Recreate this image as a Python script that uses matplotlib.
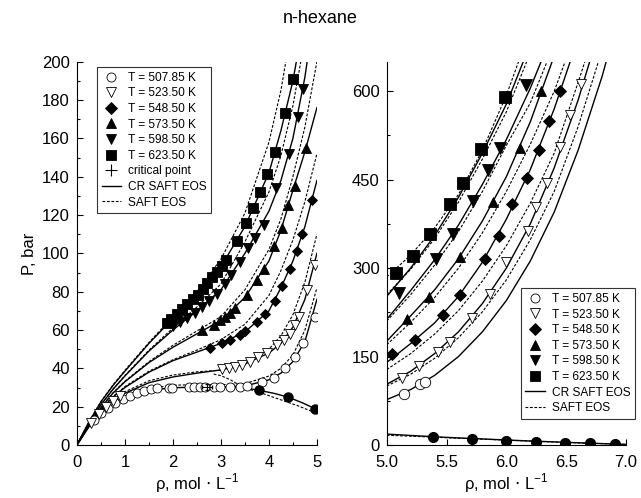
import matplotlib
matplotlib.use("Agg")
import matplotlib.pyplot as plt
from matplotlib.lines import Line2D

plt.rcParams['font.family'] = ['Liberation Sans', 'DejaVu Sans']

temps = ['507.85', '523.50', '548.50', '573.50', '598.50', '623.50']
mk = ['o', 'v', 'D', '^', 'v', 's']
face = ['white', 'white', 'black', 'black', 'black', 'black']

# ---- left panel, model curves (rho grid, P in bar)
rho_l = [0, 0.25, 0.5, 0.75, 1.0, 1.5, 2.0, 2.5, 3.0, 3.5, 4.0, 4.25, 4.5, 4.75, 5.0]
cr_l = [
    [0, 9.5, 16.5, 21.5, 24.8, 28.5, 29.9, 30.2, 30.3, 30.8, 34, 37.5, 43.5, 54, 76],
    [0, 10, 17.5, 23, 27, 32.5, 35.5, 37.5, 39.2, 42.3, 48, 53, 61.5, 76, 100],
    [0, 10.5, 18.5, 25, 30, 38, 44, 48.5, 53, 59, 70, 82, 96, 114, 138],
    [0, 11, 19.5, 27, 33, 43, 51, 58, 65, 77, 96, 112, 133, 153, 176],
    [0, 11.5, 21, 29, 36, 49, 60, 70, 81, 100, 122, 138, 160, 192, 235],
    [0, 12, 22.5, 31, 38.5, 53, 66, 78, 93, 114, 142, 164, 190, 225, 270],
]
saft_l = [
    [0, 9.6, 16.8, 22, 25.5, 29.5, 31.2, 31.5, 31.5, 32, 36, 40, 47, 60, 82],
    [0, 10.1, 17.8, 23.5, 27.8, 33.5, 36.5, 38.2, 39, 42, 50, 57, 68, 85, 110],
    [0, 10.6, 18.7, 25.3, 30.5, 38.5, 44.5, 49.5, 55, 63, 78, 91, 107, 127, 152],
    [0, 11.1, 19.7, 27.3, 33.3, 43.5, 52, 59.5, 67, 81, 102, 118, 140, 166, 200],
    [0, 11.6, 21.1, 29.2, 36.3, 49.5, 61, 72, 84, 106, 132, 151, 177, 212, 255],
    [0, 12.1, 22.7, 31.3, 39, 53.5, 67, 80, 97, 121, 158, 185, 222, 265, 310],
]
# liquid branch of the coexistence curve
sat_cr_x = [2.71, 3.0, 3.3, 3.6, 3.8, 4.1, 4.4, 4.7, 5.0]
sat_cr_y = [30.25, 30.2, 30.0, 29.4, 28.5, 27, 25, 22, 18.5]
sat_saft_x = [2.85, 3.0, 3.2, 3.4, 3.6, 3.8, 4.2, 4.6, 5.0]
sat_saft_y = [37, 36.2, 34, 31, 29, 27.5, 24, 20.5, 16.5]

# ---- left panel, experimental points
exp_l_x = [
    [0.35, 0.5, 0.65, 0.8, 0.95, 1.1, 1.25, 1.4, 1.55, 1.67, 1.91, 1.98, 2.33, 2.43, 2.57,
     2.67, 2.85, 2.99, 3.19, 3.40, 3.55, 3.85, 4.1, 4.34, 4.55, 4.72, 4.96],
    [0.3, 0.45, 0.6, 0.75, 0.9, 3.02, 3.16, 3.30, 3.44, 3.61, 3.78, 3.96, 4.17, 4.31, 4.44,
     4.55, 4.62, 4.79, 4.97],
    [2.78, 3.02, 3.19, 3.39, 3.51, 3.75, 3.92, 4.13, 4.27, 4.44, 4.58, 4.69, 4.90],
    [2.60, 2.85, 2.99, 3.09, 3.19, 3.30, 3.54, 3.75, 3.90, 4.10, 4.27, 4.40, 4.55, 4.78],
    [2.01, 2.15, 2.30, 2.45, 2.60, 2.75, 2.91, 3.08, 3.22, 3.40, 3.57, 3.72, 3.90, 4.15,
     4.42, 4.60, 4.72],
    [1.87, 1.97, 2.08, 2.19, 2.30, 2.41, 2.52, 2.62, 2.72, 2.82, 2.92, 3.02, 3.10, 3.33,
     3.52, 3.67, 3.81, 3.96, 4.13, 4.34, 4.51],
]
exp_l_p = [
    [13, 16.5, 19.5, 22, 24, 25.8, 27.2, 28.3, 29.2, 29.7, 30, 30, 30.2, 30.2, 30.2,
     30.2, 30.3, 30.3, 30.4, 30.5, 31, 33, 35, 40, 46, 53, 67],
    [11.5, 16, 20, 23, 25.5, 39.5, 40, 40.8, 41.8, 43.5, 46, 48, 52, 55, 58,
     62.5, 67, 81, 94],
    [50.5, 53, 55, 57.5, 59.5, 64, 68.5, 75, 83, 92, 101, 110, 128],
    [60, 62.6, 65, 67, 68.7, 71.3, 78.5, 86, 92, 104, 113, 125, 135, 155],
    [62, 64, 66.5, 69, 72, 75, 79, 84, 88.5, 95.5, 103, 108, 115, 134,
     152, 171, 186],
    [63.8, 66.0, 68.5, 71.0, 73.5, 76.0, 78.5, 81.5, 84.5, 87.5, 90.5, 93.5, 96.5, 106.5,
     115.7, 123.5, 132.2, 141.5, 153, 173, 191],
]
liq_l_x = [3.80, 4.40, 4.95]
liq_l_p = [28.5, 25, 19]
crit_rho, crit_p = 2.71, 30.25

# ---- right panel, model curves
rho_r = [5.0, 5.2, 5.4, 5.6, 5.8, 6.0, 6.2, 6.4, 6.6, 6.8, 7.0]
cr_r = [
    [77, 94, 118, 150, 192, 245, 312, 395, 500, 625, 770],
    [103, 125, 155, 192, 240, 300, 375, 470, 585, 720, 870],
    [140, 172, 207, 252, 310, 383, 467, 570, 690, 830, 990],
    [176, 219, 263, 316, 380, 455, 548, 660, 790, 940, 1100],
    [213, 262, 314, 373, 442, 518, 605, 705, 830, 980, 1150],
    [252, 300, 355, 420, 495, 578, 680, 800, 940, 1100, 1280],
]
saft_r = [
    [100, 120, 147, 182, 226, 280, 348, 430, 540, 670, 820],
    [128, 155, 188, 228, 278, 338, 410, 495, 615, 740, 890],
    [170, 208, 250, 300, 360, 430, 510, 600, 710, 850, 1010],
    [210, 255, 305, 362, 430, 508, 580, 680, 800, 950, 1120],
    [255, 298, 350, 412, 485, 565, 665, 780, 910, 1070, 1250],
    [285, 322, 368, 425, 500, 593, 705, 830, 970, 1130, 1310],
]
sat_cr_r = [18.5, 16.2, 14, 12, 10.3, 8.5, 6.8, 5.3, 3.8, 2.4, 1.0]
sat_saft_r = [16.5, 15, 13.2, 11.5, 9.9, 8.2, 6.6, 5.1, 3.6, 2.3, 1.0]

# ---- right panel, experimental points
exp_r_x = [
    [5.145, 5.28, 5.32],
    [5.125, 5.27, 5.43, 5.53, 5.71, 5.86, 6.0, 6.18, 6.25, 6.34, 6.45, 6.53, 6.62],
    [5.04, 5.24, 5.47, 5.61, 5.82, 5.94, 6.05, 6.17, 6.27, 6.36, 6.45],
    [5.17, 5.35, 5.61, 5.89, 6.11, 6.29],
    [5.10, 5.41, 5.55, 5.72, 5.85, 5.95, 6.165],
    [5.08, 5.22, 5.36, 5.53, 5.64, 5.79, 5.99],
]
exp_r_p = [
    [86, 104, 107],
    [113, 134, 158, 175, 216, 256, 310, 363, 404, 444, 506, 559, 612],
    [155, 178, 220, 254, 316, 354, 408, 452, 500, 549, 600],
    [214, 251, 318, 412, 504, 600],
    [258, 316, 358, 414, 466, 504, 610],
    [291, 320, 358, 408, 444, 502, 590],
]
liq_r_x = [5.39, 5.71, 6.0, 6.25, 6.49, 6.7, 6.91]
liq_r_p = [14, 11, 7, 5, 4, 3, 2.5]

fig = plt.figure(figsize=(6.41, 4.98), dpi=100)
axl = fig.add_axes([0.120, 0.1064, 0.3744, 0.7697])
axr = fig.add_axes([0.6033, 0.1064, 0.3733, 0.7697])
fig.text(0.5, 0.962, 'n-hexane', ha='center', va='center', fontsize=13)

lw = 1.0
for i in range(6):
    axl.plot(rho_l, cr_l[i], '-', color='k', lw=lw)
    axl.plot(rho_l, saft_l[i], '--', color='k', lw=0.8, dashes=(2.5, 1.5))
    axr.plot(rho_r, cr_r[i], '-', color='k', lw=lw)
    axr.plot(rho_r, saft_r[i], '--', color='k', lw=0.8, dashes=(2.5, 1.5))
axl.plot(sat_cr_x, sat_cr_y, '-', color='k', lw=lw)
axl.plot(sat_saft_x, sat_saft_y, '--', color='k', lw=0.8, dashes=(2.5, 1.5))
axr.plot(rho_r, sat_cr_r, '-', color='k', lw=lw)
axr.plot(rho_r, sat_saft_r, '--', color='k', lw=0.8, dashes=(2.5, 1.5))

ms_l = [6.5, 6.5, 5.5, 6.5, 6.5, 7]
ms_r = [7.5, 7.5, 6.5, 7.5, 8, 8.5]
for i in range(6):
    axl.plot(exp_l_x[i], exp_l_p[i], linestyle='none', marker=mk[i], ms=ms_l[i],
             mfc=face[i], mec='k', mew=0.6)
    axr.plot(exp_r_x[i], exp_r_p[i], linestyle='none', marker=mk[i], ms=ms_r[i],
             mfc=face[i], mec='k', mew=0.6)
axl.plot(liq_l_x, liq_l_p, linestyle='none', marker='o', ms=6.5, mfc='k', mec='k')
axr.plot(liq_r_x, liq_r_p, linestyle='none', marker='o', ms=7, mfc='k', mec='k')
axl.errorbar([crit_rho], [crit_p], xerr=0.1, yerr=1.8, fmt='none', ecolor='k',
             elinewidth=0.8, capsize=1.2)

# legends
def handles(with_crit):
    h = []
    for i in range(6):
        h.append(Line2D([], [], linestyle='none', marker=mk[i], ms=6.5, mfc=face[i],
                        mec='k', mew=0.6, label='T = ' + temps[i] + ' K'))
    if with_crit:
        h.append(axl.errorbar([], [], xerr=[], yerr=[], fmt='none', ecolor='k',
                              elinewidth=0.8, capsize=1.5, label='critical point'))
    h.append(Line2D([], [], color='k', lw=lw, label='CR SAFT EOS'))
    h.append(Line2D([], [], color='k', lw=0.8, linestyle='--', dashes=(2.5, 1.5),
                    label='SAFT EOS'))
    return h

for ax, hh, anchor, loc in [(axl, handles(True), (0.083, 0.986), 'upper left'),
                            (axr, handles(False), (0.56, 0.068), 'lower left')]:
    leg = ax.legend(handles=hh, loc=loc, bbox_to_anchor=anchor, borderaxespad=0,
                    fontsize=8.6, frameon=True, fancybox=False, handlelength=1.6,
                    handletextpad=0.6, labelspacing=0.3, borderpad=0.4)
    leg.get_frame().set_edgecolor('k')
    leg.get_frame().set_linewidth(0.8)

axl.set_xlim(0, 5)
axl.set_ylim(0, 200)
axl.set_xticks([0, 1, 2, 3, 4, 5])
axl.set_xticks([0.5, 1.5, 2.5, 3.5, 4.5], minor=True)
axl.set_yticks(range(0, 201, 20))
axl.set_yticks(range(10, 200, 20), minor=True)
axr.set_xlim(5, 7)
axr.set_ylim(0, 650)
axr.set_xticks([5.0, 5.5, 6.0, 6.5, 7.0])
axr.set_xticklabels(['5.0', '5.5', '6.0', '6.5', '7.0'])
axr.set_yticks([0, 150, 300, 450, 600])
axr.set_yticks([75, 225, 375, 525], minor=True)

for ax in (axl, axr):
    ax.spines['top'].set_visible(False)
    ax.spines['right'].set_visible(False)
    ax.tick_params(which='both', direction='in', labelsize=12, width=0.8)
    ax.tick_params(which='major', length=4)
    ax.tick_params(which='minor', length=2.5)
    ax.tick_params(axis='x', pad=7)
    ax.tick_params(axis='y', pad=5)
    ax.set_xlabel(r'$\mathregular{\rho}$, mol $\cdot$ L$^{\mathregular{-1}}$',
                  fontsize=12, labelpad=1)

axl.set_ylabel('P, bar', fontsize=12, labelpad=4)

fig.savefig('out.png', dpi=100)
